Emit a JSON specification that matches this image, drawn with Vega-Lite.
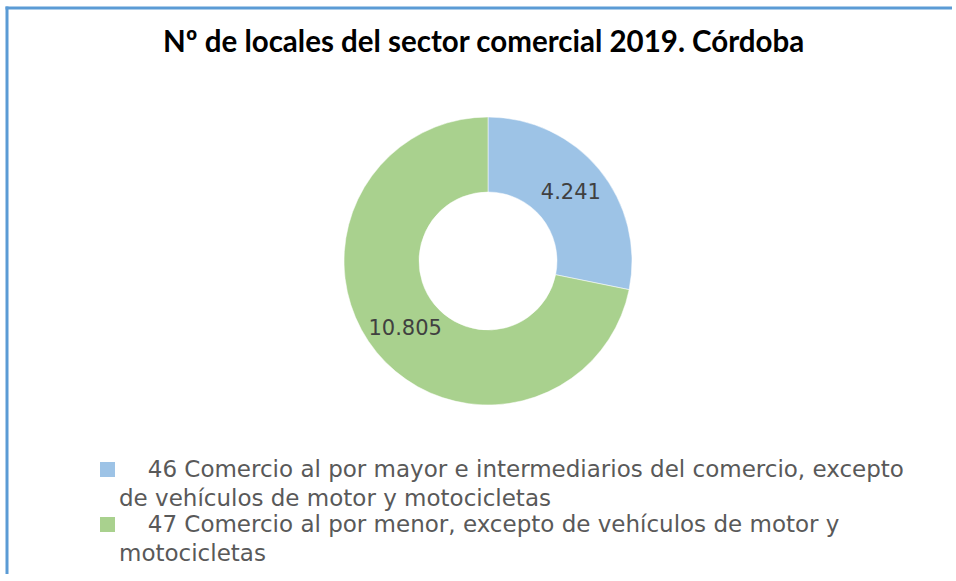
{
  "$schema": "https://vega.github.io/schema/vega-lite/v6.json",
  "autosize": "none",
  "width": 945,
  "height": 566,
  "padding": {"left": 7, "top": 8, "right": 0, "bottom": 0},
  "background": "white",
  "config": {
    "view": {"stroke": null},
    "locale": {"number": {"decimal": ",", "thousands": ".", "grouping": [3], "currency": ["", " €"]}},
    "font": "DejaVu Sans",
    "style": {"guide-label": {"lineHeight": 29}}
  },
  "title": {
    "text": "Nº de locales del sector comercial 2019. Córdoba",
    "font": "Lato",
    "fontSize": 29.5,
    "fontWeight": "bold",
    "color": "#000000",
    "anchor": "start",
    "frame": "group",
    "baseline": "alphabetic",
    "offset": -76,
    "dx": 156
  },
  "data": {
    "values": [
      {"sector": "46 Comercio al por mayor e intermediarios del comercio, excepto de vehículos de motor y motocicletas", "locales": 4241},
      {"sector": "47 Comercio al por menor, excepto de vehículos de motor y motocicletas", "locales": 10805}
    ]
  },
  "layer": [
    {
      "data": {"values": [{"borde": "izquierdo"}]},
      "mark": {"type": "rule", "color": "#5b9bd5", "strokeWidth": 3, "strokeCap": "square"},
      "encoding": {"x": {"value": 0}}
    },
    {
      "data": {"values": [{"borde": "superior"}]},
      "mark": {"type": "rule", "color": "#5b9bd5", "strokeWidth": 3, "strokeCap": "square"},
      "encoding": {"y": {"value": 0}}
    },
    {
      "mark": {"type": "arc", "innerRadius": 69, "outerRadius": 144, "stroke": "white", "strokeWidth": 0.5},
      "encoding": {
        "theta": {"field": "locales", "type": "quantitative", "stack": true},
        "x": {"value": 481},
        "y": {"value": 253},
        "color": {
          "field": "sector",
          "type": "nominal",
          "scale": {"range": ["#9dc3e6", "#a9d18e"]},
          "legend": {
            "title": null,
            "orient": "none",
            "legendX": 89,
            "legendY": 450,
            "symbolType": "square",
            "symbolSize": 225,
            "symbolStrokeWidth": 0,
            "labelFont": "DejaVu Sans",
            "labelFontSize": 23,
            "labelColor": "#595959",
            "labelLimit": 0,
            "labelOffset": 0,
            "rowPadding": 2,
            "labelExpr": "datum.value == '47 Comercio al por menor, excepto de vehículos de motor y motocicletas' ? ['\u2800\u00a0\u200947 Comercio al por menor, excepto de vehículos de motor y', 'motocicletas'] : ['\u2800\u00a0\u200946 Comercio al por mayor e intermediarios del comercio, excepto', 'de vehículos de motor y motocicletas']"
          }
        }
      }
    },
    {
      "mark": {"type": "text", "radius": 107, "font": "DejaVu Sans", "fontSize": 21, "color": "#404040"},
      "encoding": {
        "theta": {"field": "locales", "type": "quantitative", "stack": true},
        "x": {"value": 481},
        "y": {"value": 253},
        "text": {"field": "locales", "type": "quantitative", "format": ",d"}
      }
    }
  ]
}
